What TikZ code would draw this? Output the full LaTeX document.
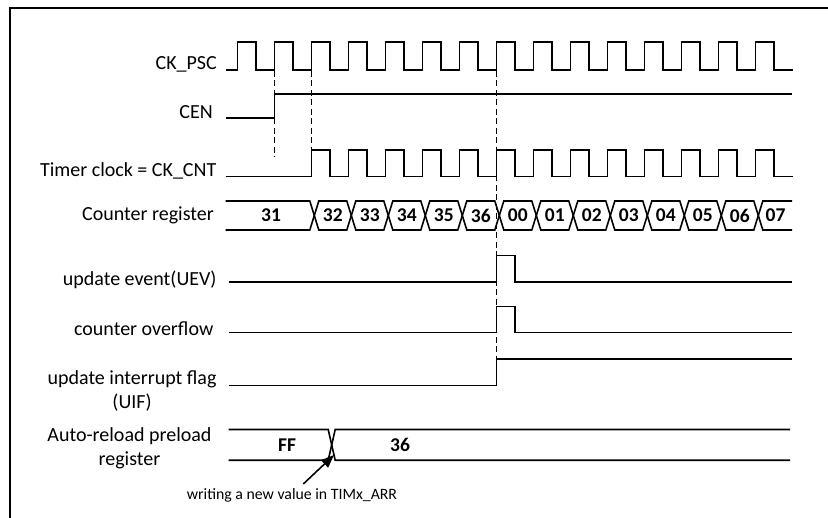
\documentclass[tikz,border=0pt]{standalone}
\usepackage{fontspec}
\setmainfont{Carlito}
\usetikzlibrary{arrows.meta}
\begin{document}
\begin{tikzpicture}[x=1pt,y=-1pt,
  sig/.style={line width=1.6pt, line join=miter},
  vline/.style={line width=1.6pt, dash pattern=on 6pt off 3.5pt},
  lbl/.style={inner sep=0pt, font=\fontsize{20}{24}\selectfont},
  val/.style={inner sep=0pt, font=\fontsize{19.5}{23}\selectfont\bfseries},
  note/.style={inner sep=0pt, font=\fontsize{15.8}{18}\selectfont},
]
\useasboundingbox (0,0) rectangle (828,518);
\fill[white] (0,0) rectangle (828,518);
% frame
\draw[line width=1.6pt] (10,518) -- (10,8) -- (828,8);

% labels
\node[lbl, anchor=base east] (ckpsc) at (217,70) {CK\_PSC};
\node[lbl, anchor=base east] (cen) at (213,118.3) {CEN};
\node[lbl, anchor=base east] (ckcnt) at (216.5,177) {Timer clock = CK\_CNT};
\node[lbl, anchor=base east] (cntreg) at (214,220.5) {Counter register};
\node[lbl, anchor=base east] (uev) at (216.7,285.5) {update event(UEV)};
\node[lbl, anchor=base east] (ovf) at (213.5,336) {counter overflow};
\node[lbl, anchor=base east] (uif1) at (216.7,385) {update interrupt flag};
\node[lbl, anchor=base] (uif2) at ([yshift=-24pt]uif1.base) {(UIF)};
\node[lbl, anchor=base east] (arr1) at (211.7,441.7) {Auto-reload preload};
\node[lbl, anchor=base] (arr2) at ([yshift=-24pt]arr1.base) {register};

% CK_PSC
\draw[sig] (225.7,70) \foreach \k in {0,...,14}{ -- ({237.3+37*\k},70) -- ({237.3+37*\k},42) -- ({255.8+37*\k},42) -- ({255.8+37*\k},70) } -- (793,70);
% CEN
\draw[sig] (225.7,118.3) -- (274.3,118.3) -- (274.3,94.3) -- (792,94.3);
% CK_CNT
\draw[sig] (225.7,176.7) \foreach \k in {2,...,14}{ -- ({237.3+37*\k},176.7) -- ({237.3+37*\k},150) -- ({255.8+37*\k},150) -- ({255.8+37*\k},176.7) } -- (793,176.7);

% dashed markers
\draw[vline] (274.3,71) -- (274.3,157);
\draw[vline] (311.3,71) -- (311.3,150);
\draw[vline] (496.3,71) -- (496.3,359);

% counter register bus
\draw[sig] (225.7,201) -- ({314.3-4.5},201) -- (314.3,215.5) -- ({314.3-4.5},230) -- (225.7,230);
\node[val] (v1) at (271,215.5) {31};
\foreach \k/\v in {2/32,3/33,4/34,5/35,6/36,7/00,8/01,9/02,10/03,11/04,12/05,13/06}{
  \pgfmathsetmacro\ca{240.3+37*\k}
  \pgfmathsetmacro\cb{240.3+37*(\k+1)}
  \draw[sig] (\ca,215.5) -- ({\ca+4.5},201) -- ({\cb-4.5},201) -- (\cb,215.5) -- ({\cb-4.5},230) -- ({\ca+4.5},230) -- cycle;
  \node[val] (v\k) at ({(\ca+\cb)/2},215.5) {\v};
}
\draw[sig] (792,201) -- ({758.3+4.5},201) -- (758.3,215.5) -- ({758.3+4.5},230) -- (792,230);
\node[val] (v14) at (775.5,215.5) {07};

% update event
\draw[sig] (228.5,282.3) -- (496.3,282.3) -- (496.3,255.7) -- (515,255.7) -- (515,282.3) -- (791.7,282.3);
% counter overflow
\draw[sig] (228.5,332.7) -- (496.3,332.7) -- (496.3,306.7) -- (515,306.7) -- (515,332.7) -- (791.7,332.7);
% UIF
\draw[sig] (228.5,385.7) -- (496.3,385.7) -- (496.3,359) -- (791.7,359);

% auto-reload bus
\draw[sig] (228.5,429.5) -- (328.2,429.5) -- (335.2,460.3) -- (790,460.3);
\draw[sig] (228.5,460.3) -- (328.2,460.3) -- (335.2,429.5) -- (790,429.5);
\node[val] (ff) at (287,445) {FF};
\node[val] (v36b) at (400,445) {36};

% annotation
\node[note, anchor=base] (wr) at (292,500) {writing a new value in TIMx\_ARR};
\coordinate (tail) at (303.3,484);
\coordinate (tip) at (334,455);
\draw[line width=1.6pt, -{Triangle[length=13pt,width=10pt]}] (tail) -- (tip);
\end{tikzpicture}
\end{document}
